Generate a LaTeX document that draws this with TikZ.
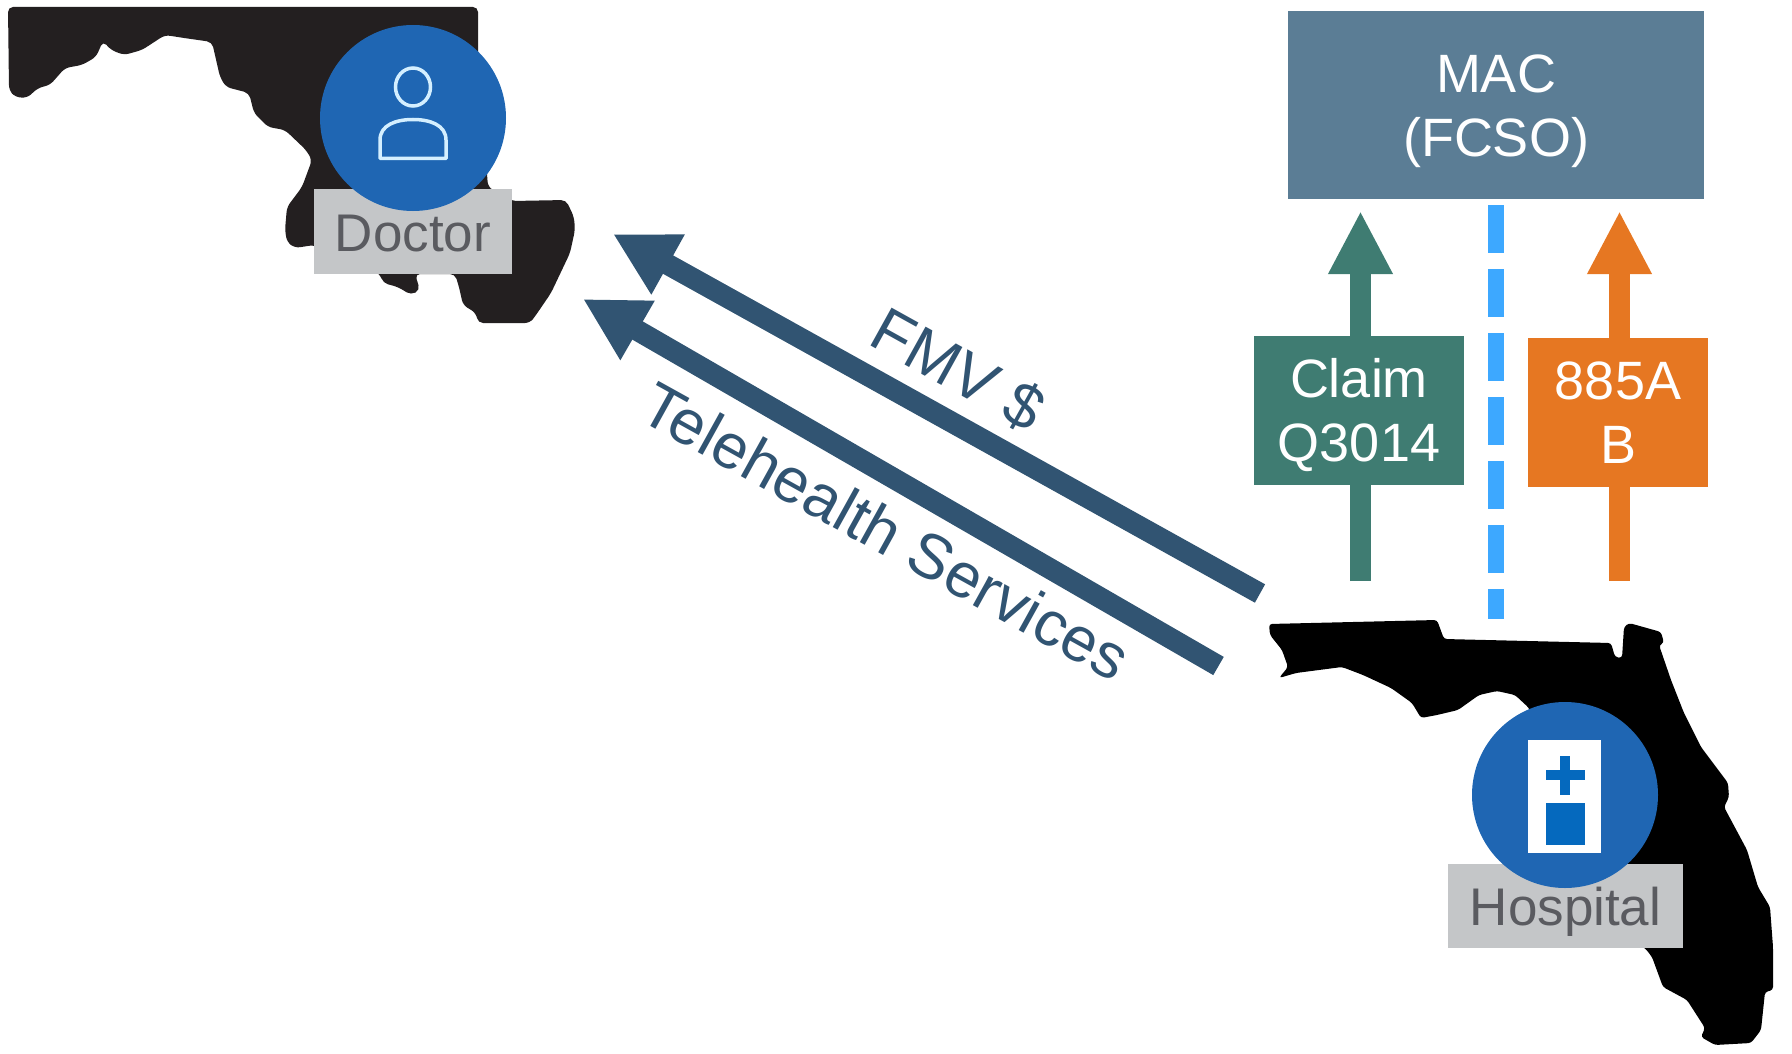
\documentclass[tikz,border=0pt]{standalone}
\usepackage{fontspec}
\setmainfont{Liberation Sans}
\usetikzlibrary{arrows.meta}
\definecolor{macblue}{HTML}{5B7D95}
\definecolor{claimgreen}{HTML}{3F7C72}
\definecolor{formorange}{HTML}{E67722}
\definecolor{dashblue}{HTML}{3DA8FF}
\definecolor{flowblue}{HTML}{315472}
\definecolor{roundblue}{HTML}{1F66B3}
\definecolor{iconblue}{HTML}{0569BE}
\definecolor{labelgray}{HTML}{C4C6C8}
\definecolor{labeltext}{HTML}{5A5B60}
\definecolor{mdblack}{HTML}{231F20}
\definecolor{iconline}{HTML}{D4EFFF}
\tikzset{
  bigtext/.style={font=\fontsize{54}{63.5}\selectfont,align=center,text=white},
  sizedbox/.style 2 args={minimum width=#1,minimum height=#2,inner sep=0pt,outer sep=0pt},
  namelabel/.style={fill=labelgray,inner sep=0pt},
  nametext/.style={text=labeltext,font=\fontsize{53}{60}\selectfont,inner sep=0pt,anchor=base},
  roundel/.style={circle,fill=roundblue,minimum size=186pt,inner sep=0pt},
  upflow/.style={line width=21pt,-{Triangle[length=63pt,width=60pt]}},
  diagflow/.style={line width=21pt,flowblue,-{Triangle[length=63pt,width=64pt]}},
  flowtext/.style={text=flowblue,font=\fontsize{63}{70}\selectfont,rotate=-29,inner sep=0pt},
}
\begin{document}
\begin{tikzpicture}[x=1pt,y=-1pt]
\useasboundingbox (0,0) rectangle (1792,1054);
% Maryland
\fill[mdblack,rounded corners=5pt] (8,7) -- (478,7) -- (478,57) -- (488,187) -- (512,201) -- (566,200) -- (574,217) -- (575,230) -- (570,253) -- (551,293) -- (536,315) -- (530,323) -- (478,323) -- (476,313) -- (463,305) -- (459,287) -- (455,274) -- (415,274) -- (420,290) -- (411,295) -- (398,287) -- (383,283) -- (380,274) -- (314,245) -- (295,248) -- (287,242) -- (285,230) -- (287,207) -- (302,187) -- (312,160) -- (306,150) -- (285,130) -- (268,127) -- (254,113) -- (249,93) -- (226,87) -- (220,77) -- (212,42) -- (184,38) -- (165,35) -- (142,50) -- (124,55) -- (111,50) -- (103,41) -- (96,57) -- (82,65) -- (65,68) -- (50,85) -- (38,88) -- (27,98) -- (15,97) -- (9,90) -- cycle;
% Florida
\fill[black,rounded corners=3pt] (1269,624) -- (1437,620) -- (1444,639) -- (1611,643) -- (1615,657) -- (1622,658) -- (1624,627) -- (1629,623) -- (1661,632) -- (1664,643) -- (1659,645) -- (1671,680) -- (1684,713) -- (1701,747) -- (1728,783) -- (1729,797) -- (1724,807) -- (1747,850) -- (1758,887) -- (1770,907) -- (1773,947) -- (1773,990) -- (1765,992) -- (1761,1030) -- (1751,1043) -- (1715,1045) -- (1701,1037) -- (1705,1028) -- (1687,1000) -- (1663,987) -- (1652,957) -- (1645,948) -- (1600,930) -- (1560,800) -- (1529,708) -- (1515,695) -- (1497,691) -- (1479,695) -- (1458,710) -- (1437,715) -- (1421,718) -- (1412,703) -- (1391,688) -- (1363,675) -- (1342,667) -- (1296,673) -- (1279,678) -- (1288,667) -- (1282,650) -- (1270,635) -- cycle;
% free ends of the connectors
\coordinate (gtail) at (1360.5,581);
\coordinate (gtip) at (1360.5,211);
\coordinate (otail) at (1619.5,581);
\coordinate (otip) at (1619.5,211);
\coordinate (dtop) at (1496,205);
\coordinate (dbot) at (1496,619);
\coordinate (atail) at (1260,593.5);
\coordinate (atip) at (613,234);
\coordinate (btail) at (1218.5,666);
\coordinate (btip) at (583,299);
% connectors
\draw[upflow,claimgreen] (gtail) -- (gtip);
\draw[upflow,formorange] (otail) -- (otip);
\draw[line width=16pt,dashblue,dash pattern=on 48pt off 16pt] (dtop) -- (dbot);
\draw[diagflow] (atail) -- (atip);
\draw[diagflow] (btail) -- (btip);
% boxes
\node[sizedbox={416pt}{188pt},fill=macblue] (mac) at (1496,105) {};
\node[bigtext] (mactext) at (1496,111) {MAC\\(FCSO)};
\node[sizedbox={210pt}{149pt},fill=claimgreen] (claim) at (1359,410.5) {};
\node[bigtext] (claimtext) at (1359,415) {Claim\\Q3014};
\node[sizedbox={180pt}{149pt},fill=formorange,bigtext] (form) at (1618,412.5) {885A\\B};
% labels on arrows
\node[flowtext] (fmv) at (958,370) {FMV \$};
\node[flowtext] (tele) at (886,531) {Telehealth Services};
% Doctor
\node[sizedbox={198pt}{85pt},namelabel] (doclabel) at (413,231.5) {};
\node[roundel] (doc) at (413,118) {};
\node[nametext] (doctext) at (413,251) {Doctor};
\draw[iconline,line width=3.5pt] (413,87) ellipse [x radius=17.5pt,y radius=19pt];
\draw[iconline,line width=3.5pt,line join=round] (380,158.5) -- (446,158.5) -- (446,140) .. controls (446,125) and (430,119.5) .. (413,119.5) .. controls (396,119.5) and (380,125) .. (380,140) -- cycle;
% Hospital
\node[sizedbox={235pt}{84pt},namelabel] (hosplabel) at (1565.5,906) {};
\node[roundel] (hosp) at (1565,795) {};
\node[nametext] (hosptext) at (1565.5,925) {Hospital};
\fill[white] (1528,740) rectangle (1601,853);
\fill[iconblue] (1560,756) rectangle (1570,795);
\fill[iconblue] (1546,770) rectangle (1585,780);
\fill[iconblue] (1546,803) rectangle (1585,845);
\end{tikzpicture}
\end{document}
